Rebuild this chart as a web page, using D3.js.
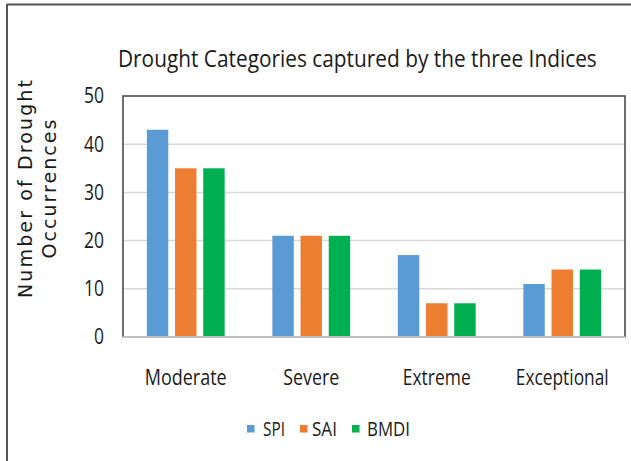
<!DOCTYPE html>
<html>
<head>
<meta charset="utf-8">
<script src="https://cdn.jsdelivr.net/npm/d3@7"></script>
<style>
  body { margin: 0; background: #fff; }
  text { fill: #1a1a1a; }
  .calib { font-family: "Open Sans", sans-serif; }
</style>
</head>
<body>
<div id="canvas"></div>
<script>
"use strict";

let svgWidth = 631;
let svgHeight = 461;

/* Data */
let categories = ["Moderate", "Severe", "Extreme", "Exceptional"];
let seriesNames = ["SPI", "SAI", "BMDI"];
let spiValues = [43, 21, 17, 11];
let saiValues = [35, 21, 7, 14];
let bmdiValues = [35, 21, 7, 14];
let yTicks = [0, 10, 20, 30, 40, 50];
let colors = ["#5b9bd5", "#ed7d31", "#00b050"];

let allSeries = [spiValues, saiValues, bmdiValues];

/* Plot area */
let plotLeft = 123, plotRight = 625, plotTop = 96, plotBottom = 337;

let svg = d3.select("#canvas")
  .append("svg")
  .attr("width", svgWidth)
  .attr("height", svgHeight);

/* Squeeze a text horizontally around its anchor so it reaches a given width
   (the reference font is tall and narrow) */
function squeeze(sel, width) {
  sel.each(function () {
    let node = d3.select(this);
    let w = this.getComputedTextLength();
    let x = +node.attr("x"), y = +node.attr("y");
    let k = Math.min(1, width / w);
    node.attr("transform", `translate(${x},${y}) scale(${k},1) translate(${-x},${-y})`);
  });
}

/* Outer frame (only top and left visible) */
svg.append("line")
  .attr("x1", 7).attr("y1", 4.5).attr("x2", svgWidth).attr("y2", 4.5)
  .attr("stroke", "#555").attr("stroke-width", 2);
svg.append("line")
  .attr("x1", 7).attr("y1", 4).attr("x2", 7).attr("y2", svgHeight)
  .attr("stroke", "#555").attr("stroke-width", 2);

/* Scales */
let xScale = d3.scaleBand()
  .domain(categories)
  .range([plotLeft, plotRight]);

let xInner = d3.scaleBand()
  .domain(seriesNames)
  .range([xScale.bandwidth() * 0.19, xScale.bandwidth() * 0.81])
  .paddingInner(0.24);

let yScale = d3.scaleLinear()
  .domain([0, 50])
  .range([plotBottom, plotTop]);

/* Gridlines */
svg.selectAll(".grid")
  .data(yTicks.slice(1, -1))
  .enter()
  .append("line")
  .attr("x1", plotLeft).attr("x2", plotRight)
  .attr("y1", d => yScale(d)).attr("y2", d => yScale(d))
  .attr("stroke", "#d9d9d9")
  .attr("stroke-width", 1.5);

/* Bars */
allSeries.forEach((values, s) => {
  svg.selectAll(".bar-" + s)
    .data(values)
    .enter()
    .append("rect")
    .attr("x", (d, i) => xScale(categories[i]) + xInner(seriesNames[s]))
    .attr("y", d => yScale(d))
    .attr("width", xInner.bandwidth())
    .attr("height", d => plotBottom - yScale(d))
    .attr("fill", colors[s]);
});

/* Plot border */
svg.append("path")
  .attr("d", `M${plotLeft},${plotBottom} V${plotTop} H${plotRight} V${plotBottom}`)
  .attr("fill", "none")
  .attr("stroke", "#404040")
  .attr("stroke-width", 1.5);

svg.append("line")
  .attr("x1", plotLeft).attr("x2", plotRight)
  .attr("y1", plotBottom).attr("y2", plotBottom)
  .attr("stroke", "#bfbfbf")
  .attr("stroke-width", 2);

/* Y tick labels */
svg.selectAll(".ytick")
  .data(yTicks)
  .enter()
  .append("text")
  .attr("class", "calib")
  .attr("x", 104)
  .attr("y", d => yScale(d) + 7.5)
  .attr("text-anchor", "end")
  .attr("font-size", "21px")
  .text(d => d)
  .each(function (d) { squeeze(d3.select(this), d === 0 ? 10 : 20); });

/* Category labels */
let catWidths = [82, 56, 68, 93];
svg.selectAll(".xlab")
  .data(categories)
  .enter()
  .append("text")
  .attr("class", "calib")
  .attr("x", d => xScale(d) + xScale.bandwidth() / 2)
  .attr("y", 385)
  .attr("text-anchor", "middle")
  .attr("font-size", "22px")
  .text(d => d)
  .each(function (d, i) { squeeze(d3.select(this), catWidths[i]); });

/* Title */
svg.append("text")
  .attr("class", "calib")
  .attr("x", 118)
  .attr("y", 67)
  .attr("font-size", "23px")
  .text("Drought Categories captured by the three Indices")
  .call(squeeze, 479);

/* Y axis title */
let yTitle = svg.append("text")
  .attr("transform", "translate(0,189) rotate(-90)")
  .attr("text-anchor", "middle")
  .attr("font-family", "DejaVu Sans, sans-serif")
  .attr("font-size", "19px");
yTitle.append("tspan").attr("x", 0).attr("y", 32)
  .attr("textLength", 218).attr("lengthAdjust", "spacing")
  .text("Number of Drought");
yTitle.append("tspan").attr("x", 0).attr("y", 55.5)
  .attr("textLength", 139).attr("lengthAdjust", "spacing")
  .text("Occurrences");

/* Legend */
let legendSquareX = [247, 300, 352];
let legendTextX = [263, 312, 367];
let legendWidths = [22, 25, 43];
seriesNames.forEach((name, i) => {
  svg.append("rect")
    .attr("x", legendSquareX[i])
    .attr("y", 425)
    .attr("width", 7.5)
    .attr("height", 7.5)
    .attr("fill", colors[i]);
  svg.append("text")
    .attr("class", "calib")
    .attr("x", legendTextX[i])
    .attr("y", 436)
    .attr("font-size", "19.5px")
    .text(name)
    .call(squeeze, legendWidths[i]);
});
</script>
</body>
</html>
